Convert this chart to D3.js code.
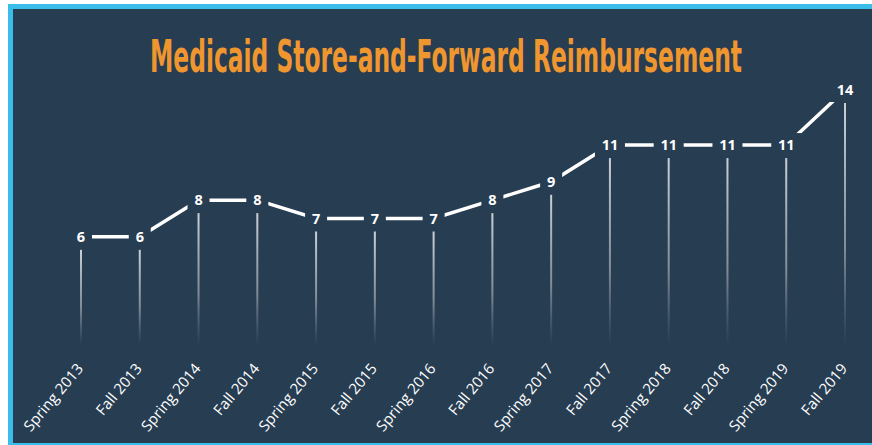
<!DOCTYPE html>
<html>
<head>
<meta charset="utf-8">
<script src="https://cdn.jsdelivr.net/npm/d3@7"></script>
<style>
  html, body { margin: 0; padding: 0; background: #fff; }
  svg { display: block; }
</style>
</head>
<body>
<svg id="chart"></svg>
<script>
// data
const terms = ["Spring 2013", "Fall 2013", "Spring 2014", "Fall 2014", "Spring 2015", "Fall 2015",
  "Spring 2016", "Fall 2016", "Spring 2017", "Fall 2017", "Spring 2018", "Fall 2018", "Spring 2019", "Fall 2019"];
const states = [6, 6, 8, 8, 7, 7, 7, 8, 9, 11, 11, 11, 11, 14];
const title = "Medicaid Store-and-Forward Reimbursement";

const width = 872, height = 445;
const bg = "#273d52";

const svg = d3.select("#chart")
  .attr("width", width)
  .attr("height", height)
  .attr("viewBox", [0, 0, width, height]);

// frame
svg.append("rect").attr("x", 8).attr("y", 4).attr("width", width - 8).attr("height", height - 4).attr("fill", "#3bbdec");
svg.append("rect").attr("x", 13).attr("y", 9).attr("width", width - 13).attr("height", 434).attr("fill", bg);

// scales
const x = d3.scalePoint().domain(terms).range([81, 845]);
const y = d3.scaleLinear().domain([0, 14]).range([347, 90]);

// gradient for drop lines
const grad = svg.append("defs").append("linearGradient")
  .attr("id", "drop")
  .attr("x1", 0).attr("x2", 0).attr("y1", 0).attr("y2", 1);
grad.append("stop").attr("offset", "0%").attr("stop-color", "#d4d8dc").attr("stop-opacity", 0.95);
grad.append("stop").attr("offset", "60%").attr("stop-color", "#b9c1c9").attr("stop-opacity", 0.6);
grad.append("stop").attr("offset", "100%").attr("stop-color", "#9aa6b2").attr("stop-opacity", 0);

// title
svg.append("text")
  .attr("x", 446)
  .attr("y", 72)
  .attr("text-anchor", "middle")
  .attr("fill", "#f0962f")
  .attr("font-family", "'Liberation Sans Narrow', 'DejaVu Sans Condensed', sans-serif")
  .attr("font-weight", "bold")
  .attr("font-size", 45)
  .attr("textLength", 592)
  .attr("lengthAdjust", "spacingAndGlyphs")
  .text(title);

const pts = terms.map((t, i) => ({ term: t, value: states[i] }));

// drop lines
svg.append("g")
  .selectAll("rect")
  .data(pts)
  .join("rect")
  .attr("x", d => x(d.term) - 1)
  .attr("width", 2)
  .attr("y", d => y(d.value) + 13)
  .attr("height", d => y(0) - 2 - (y(d.value) + 13))
  .attr("fill", "url(#drop)");

// line
const line = d3.line().x(d => x(d.term)).y(d => y(d.value));
svg.append("path")
  .datum(pts)
  .attr("fill", "none")
  .attr("stroke", "#fff")
  .attr("stroke-width", 3.5)
  .attr("d", line);

// value labels with knock-out boxes
const labels = svg.append("g")
  .selectAll("g")
  .data(pts)
  .join("g")
  .attr("transform", d => `translate(${x(d.term)},${y(d.value)})`);

labels.append("rect")
  .attr("x", d => d.value >= 10 ? -15 : -11)
  .attr("width", d => d.value >= 10 ? 30 : 22)
  .attr("y", -12)
  .attr("height", 24)
  .attr("fill", bg);

labels.append("text")
  .attr("text-anchor", "middle")
  .attr("dy", "0.36em")
  .attr("fill", "#fff")
  .attr("font-family", "'Open Sans', sans-serif")
  .attr("font-weight", "bold")
  .attr("font-size", 14.5)
  .text(d => d.value);

// axis labels
svg.append("g")
  .selectAll("text")
  .data(terms)
  .join("text")
  .attr("transform", d => `translate(${x(d) + 3},369) rotate(-50)`)
  .attr("text-anchor", "end")
  .attr("fill", "#fff")
  .attr("font-family", "'Open Sans', sans-serif")
  .attr("font-size", 15)
  .text(d => d);
</script>
</body>
</html>
